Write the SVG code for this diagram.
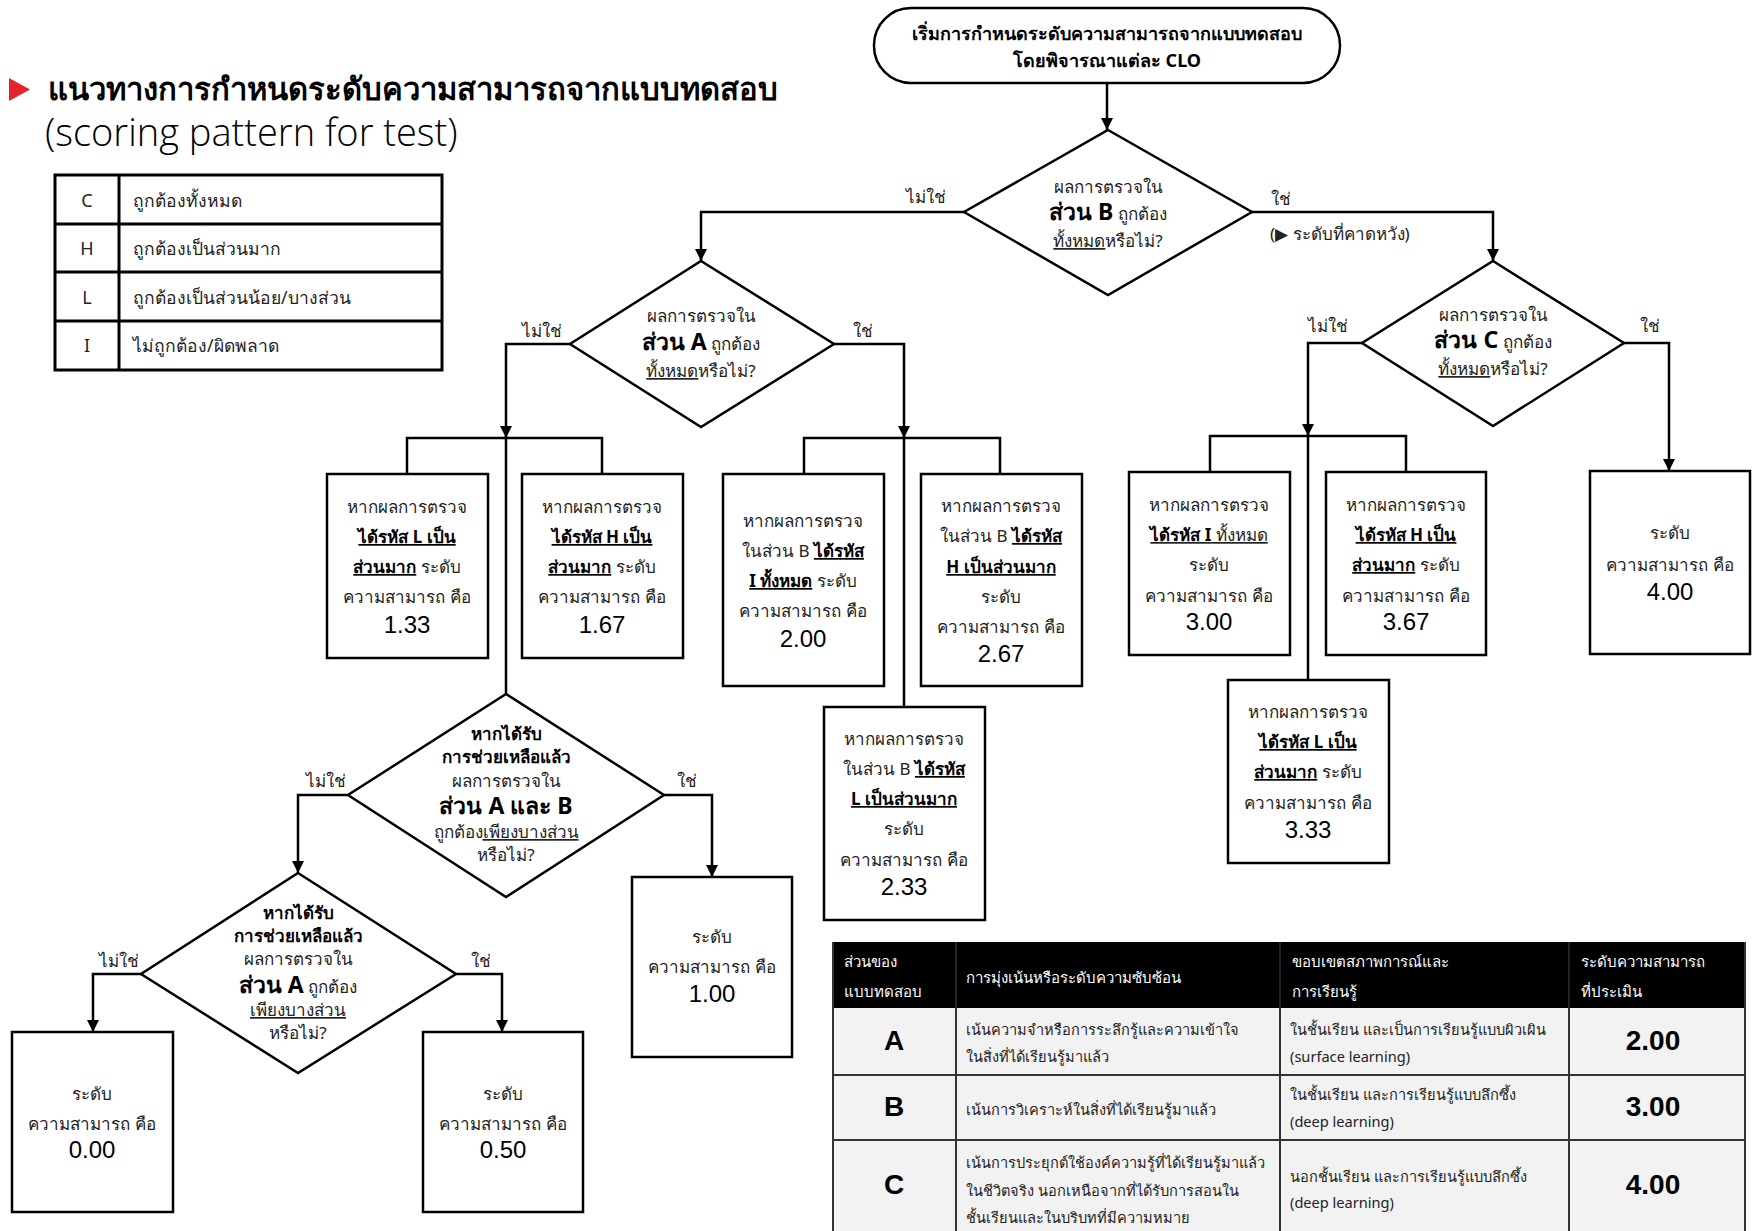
<svg xmlns="http://www.w3.org/2000/svg" width="1756" height="1231" viewBox="0 0 1756 1231">
<style>
text{font-family:"Noto Sans","Liberation Sans",sans-serif;fill:#222}
.t{font-size:17px;text-anchor:middle}
.l{font-size:17px}
.b{font-weight:bold;fill:#000}
.u{text-decoration:underline}
.big{font-size:23px;font-weight:bold;fill:#000}
.n{font-size:24px;font-family:"Liberation Sans",sans-serif;fill:#000}
.nd{fill:#fff;stroke:#000;stroke-width:2.5}
.ln{fill:none;stroke:#000;stroke-width:2.5}
.lg{fill:none;stroke:#000;stroke-width:3}
.th{font-size:15px;fill:#fff}
.td{font-size:14.6px;fill:#222}
.tl{font-size:28px;font-weight:bold;fill:#000;font-family:"Liberation Sans",sans-serif;text-anchor:middle}
.grid{stroke:#333;stroke-width:2;fill:none}
</style>
<defs>
<marker id="ah" markerWidth="12" markerHeight="12" refX="12" refY="6" orient="auto" markerUnits="userSpaceOnUse"><path d="M0,0 L12,6 L0,12 z" fill="#000"/></marker>
</defs>

<g id="title">
<polygon points="9,78 30,89.5 9,101" fill="#e3242b"/>
<text x="48" y="100" style="font-size:31px;font-weight:bold;fill:#000">แนวทางการกำหนดระดับความสามารถจากแบบทดสอบ</text>
<text x="45" y="146" style="font-size:38px;font-family:'Open Sans',sans-serif;font-weight:300;fill:#000">(scoring pattern for test)</text>
</g>

<g id="legend">
<rect x="55" y="175" width="387" height="195" class="lg"/>
<line x1="119" y1="175" x2="119" y2="370" class="lg"/>
<line x1="55" y1="224" x2="442" y2="224" class="lg"/>
<line x1="55" y1="272" x2="442" y2="272" class="lg"/>
<line x1="55" y1="321" x2="442" y2="321" class="lg"/>
<text x="87" y="207" class="t" style="font-size:18px">C</text><text x="133" y="207" class="l" style="font-size:17.5px">ถูกต้องทั้งหมด</text>
<text x="87" y="255" class="t" style="font-size:18px">H</text><text x="133" y="255" class="l" style="font-size:17.5px">ถูกต้องเป็นส่วนมาก</text>
<text x="87" y="304" class="t" style="font-size:18px">L</text><text x="133" y="304" class="l" style="font-size:17.5px">ถูกต้องเป็นส่วนน้อย/บางส่วน</text>
<text x="87" y="352" class="t" style="font-size:18px">I</text><text x="133" y="352" class="l" style="font-size:17.5px">ไม่ถูกต้อง/ผิดพลาด</text>
</g>

<g id="connectors">
<path d="M1107,83 V130" class="ln" marker-end="url(#ah)"/>
<path d="M964,212 H701 V261" class="ln" marker-end="url(#ah)"/>
<path d="M1252,212 H1493 V261" class="ln" marker-end="url(#ah)"/>
<path d="M570,344 H506 V438" class="ln" marker-end="url(#ah)"/>
<path d="M506,436 V694" class="ln"/>
<path d="M407,474 V438 H602 V474" class="ln"/>
<path d="M834,344 H904 V438" class="ln" marker-end="url(#ah)"/>
<path d="M904,436 V707" class="ln"/>
<path d="M804,474 V438 H1000 V474" class="ln"/>
<path d="M1362,343 H1308 V436" class="ln" marker-end="url(#ah)"/>
<path d="M1308,434 V680" class="ln"/>
<path d="M1210,472 V436 H1406 V472" class="ln"/>
<path d="M1624,343 H1669 V471" class="ln" marker-end="url(#ah)"/>
<path d="M348,795 H298 V873" class="ln" marker-end="url(#ah)"/>
<path d="M664,795 H712 V877" class="ln" marker-end="url(#ah)"/>
<path d="M141,974 H93 V1032" class="ln" marker-end="url(#ah)"/>
<path d="M456,974 H502 V1032" class="ln" marker-end="url(#ah)"/>
<text x="946" y="203" class="l" text-anchor="end">ไม่ใช่</text>
<text x="1271" y="205" class="l">ใช่</text>
<text x="1270" y="240" class="l">(▶ ระดับที่คาดหวัง)</text>
<text x="1308" y="332" class="l">ไม่ใช่</text>
<text x="1640" y="332" class="l">ใช่</text>
<text x="522" y="337" class="l">ไม่ใช่</text>
<text x="853" y="337" class="l">ใช่</text>
<text x="306" y="787" class="l">ไม่ใช่</text>
<text x="677" y="787" class="l">ใช่</text>
<text x="99" y="967" class="l">ไม่ใช่</text>
<text x="471" y="967" class="l">ใช่</text>
</g>

<g id="start">
<rect x="874" y="8" width="466" height="75" rx="37" class="nd"/>
<text x="1107" y="40" class="t b" style="font-size:18px">เริ่มการกำหนดระดับความสามารถจากแบบทดสอบ</text>
<text x="1107" y="67" class="t b" style="font-size:18px">โดยพิจารณาแต่ละ CLO</text>
</g>

<g id="decisionB">
<polygon points="1108,130 1252,212 1108,295 964,212" class="nd"/>
<text x="1108" y="193" class="t">ผลการตรวจใน</text>
<text x="1108" y="220" class="t"><tspan class="big">ส่วน B</tspan> ถูกต้อง</text>
<text x="1108" y="247" class="t"><tspan class="u">ทั้งหมด</tspan>หรือไม่?</text>
</g>

<g id="decisionC">
<polygon points="1493,261 1624,343 1493,426 1362,343" class="nd"/>
<text x="1493" y="321" class="t">ผลการตรวจใน</text>
<text x="1493" y="348" class="t"><tspan class="big">ส่วน C</tspan> ถูกต้อง</text>
<text x="1493" y="375" class="t"><tspan class="u">ทั้งหมด</tspan>หรือไม่?</text>
</g>

<g id="decisionA">
<polygon points="701,261 834,344 701,427 570,344" class="nd"/>
<text x="701" y="322" class="t">ผลการตรวจใน</text>
<text x="701" y="350" class="t"><tspan class="big">ส่วน A</tspan> ถูกต้อง</text>
<text x="701" y="377" class="t"><tspan class="u">ทั้งหมด</tspan>หรือไม่?</text>
</g>

<g id="decisionAB">
<polygon points="506,694 664,795 506,897 348,795" class="nd"/>
<text x="506" y="740" class="t b">หากได้รับ</text>
<text x="506" y="763" class="t b">การช่วยเหลือแล้ว</text>
<text x="506" y="787" class="t">ผลการตรวจใน</text>
<text x="506" y="814" class="t big">ส่วน A และ B</text>
<text x="506" y="838" class="t">ถูกต้อง<tspan class="u">เพียงบางส่วน</tspan></text>
<text x="506" y="861" class="t">หรือไม่?</text>
</g>

<g id="decisionA2">
<polygon points="298,873 456,974 298,1073 141,974" class="nd"/>
<text x="298" y="919" class="t b">หากได้รับ</text>
<text x="298" y="942" class="t b">การช่วยเหลือแล้ว</text>
<text x="298" y="965" class="t">ผลการตรวจใน</text>
<text x="298" y="993" class="t"><tspan class="big">ส่วน A</tspan> ถูกต้อง</text>
<text x="298" y="1016" class="t u">เพียงบางส่วน</text>
<text x="298" y="1039" class="t">หรือไม่?</text>
</g>

<g id="box133">
<rect x="327" y="474" width="161" height="184" class="nd"/>
<text x="407" y="513" class="t">หากผลการตรวจ</text>
<text x="407" y="543" class="t b u">ได้รหัส L เป็น</text>
<text x="407" y="573" class="t"><tspan class="b u">ส่วนมาก</tspan> ระดับ</text>
<text x="407" y="603" class="t">ความสามารถ คือ</text>
<text x="407" y="633" class="t n">1.33</text>
</g>

<g id="box167">
<rect x="522" y="474" width="161" height="184" class="nd"/>
<text x="602" y="513" class="t">หากผลการตรวจ</text>
<text x="602" y="543" class="t b u">ได้รหัส H เป็น</text>
<text x="602" y="573" class="t"><tspan class="b u">ส่วนมาก</tspan> ระดับ</text>
<text x="602" y="603" class="t">ความสามารถ คือ</text>
<text x="602" y="633" class="t n">1.67</text>
</g>

<g id="box200">
<rect x="723" y="474" width="161" height="212" class="nd"/>
<text x="803" y="527" class="t">หากผลการตรวจ</text>
<text x="803" y="557" class="t">ในส่วน B <tspan class="b u">ได้รหัส</tspan></text>
<text x="803" y="587" class="t"><tspan class="b u">I ทั้งหมด</tspan> ระดับ</text>
<text x="803" y="617" class="t">ความสามารถ คือ</text>
<text x="803" y="647" class="t n">2.00</text>
</g>

<g id="box267">
<rect x="921" y="474" width="161" height="212" class="nd"/>
<text x="1001" y="512" class="t">หากผลการตรวจ</text>
<text x="1001" y="542" class="t">ในส่วน B <tspan class="b u">ได้รหัส</tspan></text>
<text x="1001" y="573" class="t b u">H เป็นส่วนมาก</text>
<text x="1001" y="603" class="t">ระดับ</text>
<text x="1001" y="633" class="t">ความสามารถ คือ</text>
<text x="1001" y="662" class="t n">2.67</text>
</g>

<g id="box233">
<rect x="824" y="707" width="161" height="213" class="nd"/>
<text x="904" y="745" class="t">หากผลการตรวจ</text>
<text x="904" y="775" class="t">ในส่วน B <tspan class="b u">ได้รหัส</tspan></text>
<text x="904" y="805" class="t b u">L เป็นส่วนมาก</text>
<text x="904" y="835" class="t">ระดับ</text>
<text x="904" y="866" class="t">ความสามารถ คือ</text>
<text x="904" y="895" class="t n">2.33</text>
</g>

<g id="box300">
<rect x="1129" y="472" width="161" height="183" class="nd"/>
<text x="1209" y="511" class="t">หากผลการตรวจ</text>
<text x="1209" y="541" class="t u"><tspan class="b">ได้รหัส I</tspan> ทั้งหมด</text>
<text x="1209" y="571" class="t">ระดับ</text>
<text x="1209" y="602" class="t">ความสามารถ คือ</text>
<text x="1209" y="630" class="t n">3.00</text>
</g>

<g id="box367">
<rect x="1326" y="472" width="160" height="183" class="nd"/>
<text x="1406" y="511" class="t">หากผลการตรวจ</text>
<text x="1406" y="541" class="t b u">ได้รหัส H เป็น</text>
<text x="1406" y="571" class="t"><tspan class="b u">ส่วนมาก</tspan> ระดับ</text>
<text x="1406" y="602" class="t">ความสามารถ คือ</text>
<text x="1406" y="630" class="t n">3.67</text>
</g>

<g id="box333">
<rect x="1228" y="680" width="161" height="183" class="nd"/>
<text x="1308" y="718" class="t">หากผลการตรวจ</text>
<text x="1308" y="748" class="t b u">ได้รหัส L เป็น</text>
<text x="1308" y="778" class="t"><tspan class="b u">ส่วนมาก</tspan> ระดับ</text>
<text x="1308" y="809" class="t">ความสามารถ คือ</text>
<text x="1308" y="838" class="t n">3.33</text>
</g>

<g id="box400">
<rect x="1590" y="471" width="160" height="183" class="nd"/>
<text x="1670" y="539" class="t">ระดับ</text>
<text x="1670" y="571" class="t">ความสามารถ คือ</text>
<text x="1670" y="600" class="t n">4.00</text>
</g>

<g id="box100">
<rect x="632" y="877" width="160" height="180" class="nd"/>
<text x="712" y="943" class="t">ระดับ</text>
<text x="712" y="973" class="t">ความสามารถ คือ</text>
<text x="712" y="1002" class="t n">1.00</text>
</g>

<g id="box000">
<rect x="12" y="1032" width="161" height="180" class="nd"/>
<text x="92" y="1100" class="t">ระดับ</text>
<text x="92" y="1130" class="t">ความสามารถ คือ</text>
<text x="92" y="1158" class="t n">0.00</text>
</g>

<g id="box050">
<rect x="423" y="1032" width="160" height="180" class="nd"/>
<text x="503" y="1100" class="t">ระดับ</text>
<text x="503" y="1130" class="t">ความสามารถ คือ</text>
<text x="503" y="1158" class="t n">0.50</text>
</g>

<g id="summary-table">
<rect x="833" y="942" width="912" height="66" fill="#000"/>
<rect x="833" y="1008" width="912" height="232" fill="#f2f2f2"/>
<path d="M833,942 V1240 M1745,942 V1240 M833,1075 H1745 M833,1140 H1745 M956,1008 V1240 M1280,1008 V1240 M1569,1008 V1240" class="grid"/>
<path d="M956,942 V1008 M1280,942 V1008 M1569,942 V1008" stroke="#444" stroke-width="1"/>
<text x="844" y="967" class="th">ส่วนของ</text>
<text x="844" y="997" class="th">แบบทดสอบ</text>
<text x="966" y="983" class="th">การมุ่งเน้นหรือระดับความซับซ้อน</text>
<text x="1292" y="967" class="th">ขอบเขตสภาพการณ์และ</text>
<text x="1292" y="997" class="th">การเรียนรู้</text>
<text x="1581" y="967" class="th">ระดับความสามารถ</text>
<text x="1581" y="997" class="th">ที่ประเมิน</text>
<text x="894" y="1050" class="tl">A</text>
<text x="966" y="1035" class="td">เน้นความจำหรือการระลึกรู้และความเข้าใจ</text>
<text x="966" y="1062" class="td">ในสิ่งที่ได้เรียนรู้มาแล้ว</text>
<text x="1290" y="1035" class="td">ในชั้นเรียน และเป็นการเรียนรู้แบบผิวเผิน</text>
<text x="1290" y="1062" class="td">(surface learning)</text>
<text x="1653" y="1050" class="tl">2.00</text>
<text x="894" y="1116" class="tl">B</text>
<text x="966" y="1115" class="td">เน้นการวิเคราะห์ในสิ่งที่ได้เรียนรู้มาแล้ว</text>
<text x="1290" y="1100" class="td">ในชั้นเรียน และการเรียนรู้แบบลึกซึ้ง</text>
<text x="1290" y="1127" class="td">(deep learning)</text>
<text x="1653" y="1116" class="tl">3.00</text>
<text x="894" y="1194" class="tl">C</text>
<text x="966" y="1168" class="td">เน้นการประยุกต์ใช้องค์ความรู้ที่ได้เรียนรู้มาแล้ว</text>
<text x="966" y="1196" class="td">ในชีวิตจริง นอกเหนือจากที่ได้รับการสอนใน</text>
<text x="966" y="1223" class="td">ชั้นเรียนและในบริบทที่มีความหมาย</text>
<text x="1290" y="1182" class="td">นอกชั้นเรียน และการเรียนรู้แบบลึกซึ้ง</text>
<text x="1290" y="1208" class="td">(deep learning)</text>
<text x="1653" y="1194" class="tl">4.00</text>
</g>
</svg>
